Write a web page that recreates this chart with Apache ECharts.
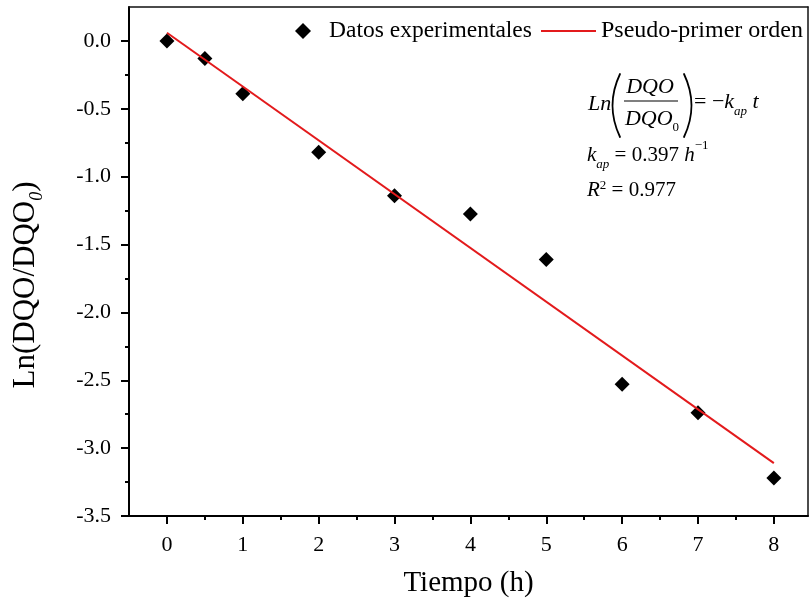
<!DOCTYPE html>
<html>
<head>
<meta charset="utf-8">
<script src="https://cdn.jsdelivr.net/npm/echarts@6/dist/echarts.min.js"></script>
<style>html,body{margin:0;padding:0;background:#fff}#c{width:810px;height:607px}</style>
</head>
<body>
<div id="c"></div>
<script>
// ---- data ----
const tiempo = [0, 0.5, 1, 2, 3, 4, 5, 6, 7, 8];
const lnDQO = [0.0, -0.13, -0.39, -0.82, -1.14, -1.275, -1.61, -2.53, -2.74, -3.22];
const fitT = [0, 8];
const fitY = [0.06, -3.11];
const xMajorTicks = [0, 1, 2, 3, 4, 5, 6, 7, 8];
const xMinorTicks = [0.5, 1.5, 2.5, 3.5, 4.5, 5.5, 6.5, 7.5];
const yMajorTicks = [-3.5, -3.0, -2.5, -2.0, -1.5, -1.0, -0.5, 0.0];
const yMinorTicks = [-3.25, -2.75, -2.25, -1.75, -1.25, -0.75, -0.25];
const seriesNames = ['Datos experimentales', 'Pseudo-primer orden'];

const FONT = 'Liberation Serif';
const XMIN = -0.5, XMAX = 8.45, YMIN = -3.5, YMAX = 0.25;

const chart = echarts.init(document.getElementById('c'));
const axisLineStyle = {color: '#000', width: 2};
const hidden = {show: false};
const F = (s, it) => (it ? 'italic ' : '') + s + 'px "Liberation Serif"';

const option = {
  backgroundColor: '#fff',
  animation: false,
  textStyle: {fontFamily: FONT},
  grid: {left: 129, right: 2, top: 7, bottom: 91, containLabel: false},
  legend: [
    {
      data: [{name: seriesNames[0], icon: 'diamond'}],
      left: 295, top: 19, padding: 0,
      itemWidth: 16, itemHeight: 16,
      textStyle: {fontFamily: FONT, fontSize: 23.5, color: '#000', padding: [0, 0, 0, 13]}
    },
    {
      data: [{name: seriesNames[1], icon: 'rect'}],
      left: 541, top: 19, padding: 0,
      itemWidth: 55, itemHeight: 2,
      textStyle: {fontFamily: FONT, fontSize: 24, color: '#000'}
    }
  ],
  xAxis: [
    {
      type: 'value', min: XMIN, max: XMAX, interval: 0.5, position: 'bottom',
      name: 'Tiempo (h)', nameLocation: 'middle', nameGap: 53,
      nameTextStyle: {fontFamily: FONT, fontSize: 29, color: '#000'},
      axisLine: {show: true, onZero: false, lineStyle: axisLineStyle},
      axisTick: {show: true, inside: false, length: 8, customValues: xMajorTicks, lineStyle: {color: '#000', width: 2}},
      axisLabel: {show: true, customValues: xMajorTicks, margin: 18, fontFamily: FONT, fontSize: 22, color: '#000'},
      splitLine: hidden
    },
    {
      type: 'value', min: XMIN, max: XMAX, interval: 0.5, position: 'bottom',
      axisLine: {show: false, onZero: false},
      axisTick: {show: true, inside: false, length: 4, customValues: xMinorTicks, lineStyle: {color: '#000', width: 2}},
      axisLabel: hidden, splitLine: hidden
    },
    {
      type: 'value', min: XMIN, max: XMAX, interval: 0.5, position: 'top',
      axisLine: {show: true, onZero: false, lineStyle: {color: '#111', width: 1.5}},
      axisTick: hidden, axisLabel: hidden, splitLine: hidden
    }
  ],
  yAxis: [
    {
      type: 'value', min: YMIN, max: YMAX, interval: 0.25, position: 'left',
      axisLine: {show: true, onZero: false, lineStyle: axisLineStyle},
      axisTick: {show: true, inside: false, length: 8, customValues: yMajorTicks, lineStyle: {color: '#000', width: 2}},
      axisLabel: {show: true, customValues: yMajorTicks, margin: 18, fontFamily: FONT, fontSize: 22, color: '#000',
        formatter: v => v.toFixed(1)},
      splitLine: hidden
    },
    {
      type: 'value', min: YMIN, max: YMAX, interval: 0.25, position: 'left',
      axisLine: {show: false, onZero: false},
      axisTick: {show: true, inside: false, length: 4, customValues: yMinorTicks, lineStyle: {color: '#000', width: 2}},
      axisLabel: hidden, splitLine: hidden
    },
    {
      type: 'value', min: YMIN, max: YMAX, interval: 0.25, position: 'right',
      axisLine: {show: true, onZero: false, lineStyle: {color: '#111', width: 1.5}},
      axisTick: hidden, axisLabel: hidden, splitLine: hidden
    }
  ],
  series: [
    {
      name: seriesNames[0], type: 'scatter', xAxisIndex: 0, yAxisIndex: 0,
      symbol: 'diamond', symbolSize: 15,
      itemStyle: {color: '#000', opacity: 1},
      data: tiempo.map((t, i) => [t, lnDQO[i]]),
      z: 3
    },
    {
      name: seriesNames[1], type: 'line', xAxisIndex: 0, yAxisIndex: 0,
      symbol: 'none', showSymbol: false,
      lineStyle: {color: '#e31a1c', width: 2},
      itemStyle: {color: '#e31a1c'},
      data: fitT.map((t, i) => [t, fitY[i]]),
      z: 4
    }
  ],
  graphic: [
    // y-axis title
    {type: 'text', x: 26, y: 285, rotation: Math.PI / 2,
      style: {text: 'Ln(DQO/DQO{sub|0})', font: F(31), fill: '#000', align: 'center', verticalAlign: 'middle',
        rich: {sub: {font: F(18, true), fill: '#000', verticalAlign: 'bottom', lineHeight: 40}}}},
    // equation
    {type: 'text', x: 588, y: 104, style: {text: 'Ln', font: F(22, true), fill: '#000', align: 'left', verticalAlign: 'middle'}},
    {type: 'bezierCurve', shape: {x1: 620, y1: 74, x2: 620, y2: 137, cpx1: 605, cpy1: 105.5},
      style: {stroke: '#000', lineWidth: 1.8, fill: null, lineCap: 'round'}},
    {type: 'text', x: 650, y: 87, style: {text: 'DQO', font: F(22, true), fill: '#000', align: 'center', verticalAlign: 'middle'}},
    {type: 'line', shape: {x1: 624, y1: 101, x2: 678, y2: 101}, style: {stroke: '#000', lineWidth: 1.2}},
    {type: 'text', x: 652, y: 119, style: {text: 'DQO{sub|0}', font: F(22, true), fill: '#000', align: 'center', verticalAlign: 'middle',
      rich: {sub: {font: F(13), fill: '#000', verticalAlign: 'bottom', lineHeight: 30}}}},
    {type: 'bezierCurve', shape: {x1: 684, y1: 74, x2: 684, y2: 137, cpx1: 699, cpy1: 105.5},
      style: {stroke: '#000', lineWidth: 1.8, fill: null, lineCap: 'round'}},
    {type: 'text', x: 694, y: 102, style: {text: '= \u2212{i|k}{sub|ap} {i|t}', font: F(22), fill: '#000', align: 'left', verticalAlign: 'middle',
      rich: {i: {font: F(22, true), fill: '#000'},
             sub: {font: F(13, true), fill: '#000', verticalAlign: 'bottom', lineHeight: 32}}}},
    {type: 'text', x: 587, y: 155, style: {text: '{i|k}{sub|ap} = 0.397 {i|h}{sup|\u22121}', font: F(21), fill: '#000', align: 'left', verticalAlign: 'middle',
      rich: {i: {font: F(21, true), fill: '#000'},
             sub: {font: F(13, true), fill: '#000', verticalAlign: 'bottom', lineHeight: 32},
             sup: {font: F(13), fill: '#000', verticalAlign: 'top', lineHeight: 22}}}},
    {type: 'text', x: 587, y: 190, style: {text: '{i|R}{sup|2} = 0.977', font: F(21), fill: '#000', align: 'left', verticalAlign: 'middle',
      rich: {i: {font: F(21, true), fill: '#000'},
             sup: {font: F(13), fill: '#000', verticalAlign: 'top', lineHeight: 22}}}}
  ]
};
chart.setOption(option);
</script>
</body>
</html>
